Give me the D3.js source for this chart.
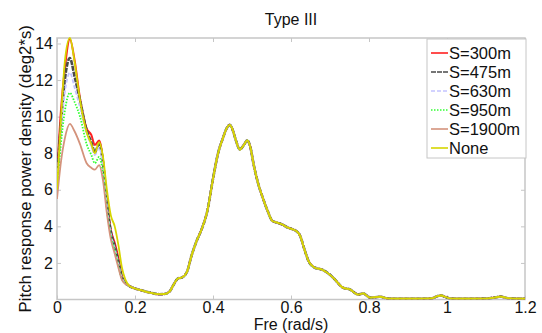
<!DOCTYPE html>
<html>
<head>
<meta charset="utf-8">
<script src="https://cdn.jsdelivr.net/npm/d3@7/dist/d3.min.js"></script>
<style>
  html, body { margin: 0; padding: 0; background: #fff; }
  svg { display: block; font-family: "Liberation Sans", Arial, sans-serif; }
</style>
</head>
<body>
<svg id="chart" width="542" height="333"></svg>
<script>
// Low-frequency band, where the spacing cases differ
const freqLow = [0, 0.01, 0.02, 0.033, 0.045, 0.059, 0.076, 0.088, 0.097, 0.108, 0.118, 0.128, 0.138, 0.148, 0.158, 0.166, 0.175];
const s300  = [6.7, 10.3, 12.6, 14.25, 13.1, 11.0, 9.35, 9.0, 8.45, 8.7, 7.6, 5.4, 3.8, 3.1, 2.2, 1.3, 0.95];
const s475  = [6.5, 9.6, 12.0, 13.2, 12.2, 10.9, 9.25, 8.6, 8.05, 8.5, 7.5, 5.3, 3.7, 2.9, 2.0, 1.25, 0.92];
const s630  = [6.3, 9.2, 11.3, 12.4, 11.6, 10.5, 9.1, 8.4, 7.9, 8.3, 7.3, 5.1, 3.6, 2.8, 1.9, 1.2, 0.9];
const s950  = [6.0, 8.5, 10.3, 11.3, 10.8, 10.0, 8.5, 7.9, 7.45, 7.8, 6.9, 4.9, 3.5, 2.7, 1.8, 1.15, 0.88];
const s1900 = [5.5, 7.5, 8.8, 9.6, 9.2, 8.5, 7.45, 7.2, 7.1, 7.35, 6.5, 4.7, 3.3, 2.5, 1.7, 1.1, 0.85];
const sNone = [6.0, 9.8, 13.0, 14.3, 13.0, 10.9, 9.15, 8.5, 8.0, 8.6, 7.8, 6.0, 4.6, 4.0, 2.9, 1.8, 1.1];

// Wave band and high frequencies, common to every case
const freqTail = [0.187, 0.2, 0.213, 0.225, 0.238, 0.25, 0.262, 0.275, 0.288, 0.3, 0.31, 0.32, 0.333, 0.345, 0.358, 0.372, 0.385, 0.4, 0.413, 0.425, 0.436, 0.443, 0.45, 0.458, 0.469, 0.479, 0.488, 0.495, 0.505, 0.515, 0.527, 0.54, 0.552, 0.565, 0.578, 0.59, 0.603, 0.613, 0.623, 0.635, 0.645, 0.66, 0.68, 0.7, 0.71, 0.733, 0.751, 0.772, 0.785, 0.803, 0.828, 0.85, 0.88, 0.92, 0.96, 0.975, 0.985, 0.995, 1.01, 1.05, 1.1, 1.125, 1.138, 1.15, 1.17, 1.2];
const valTail  = [0.72, 0.6, 0.52, 0.45, 0.38, 0.32, 0.29, 0.3, 0.42, 0.85, 1.15, 1.2, 1.5, 2.4, 3.2, 3.9, 4.8, 6.6, 8.0, 8.8, 9.4, 9.55, 9.3, 8.75, 8.2, 8.45, 8.7, 8.4, 7.3, 6.4, 5.6, 4.85, 4.3, 4.2, 4.1, 3.95, 3.85, 3.75, 3.5, 2.7, 2.1, 1.75, 1.63, 1.35, 1.15, 0.65, 0.55, 0.27, 0.33, 0.1, 0.15, 0.05, 0.04, 0.04, 0.06, 0.18, 0.22, 0.15, 0.05, 0.04, 0.05, 0.12, 0.16, 0.1, 0.05, 0.04];

const seriesNames = ["S=300m", "S=475m", "S=630m", "S=950m", "S=1900m", "None"];
const seriesLow = [s300, s475, s630, s950, s1900, sNone];
const seriesColors = ["#ff2020", "#4a4a4a", "#c4c4ff", "#30ff30", "#d4937c", "#d6d600"];
const seriesDash = [null, "5,1", "4,2", "1.5,1.5", null, null];
const seriesWidth = [2, 2.6, 1.8, 1.8, 1.8, 1.8];

const xTicks = [0, 0.2, 0.4, 0.6, 0.8, 1, 1.2];
const yTicks = [2, 4, 6, 8, 10, 12, 14];

const svg = d3.select("#chart");
const m = { left: 57, right: 525, top: 38, bottom: 299.5 };

const x = d3.scaleLinear().domain([0, 1.2]).range([m.left, m.right]);
const y = d3.scaleLinear().domain([0, 14.3]).range([m.bottom, m.top]);

svg.append("defs").append("clipPath").attr("id", "plotClip")
  .append("rect")
  .attr("x", m.left).attr("y", m.top - 2)
  .attr("width", m.right - m.left).attr("height", m.bottom - m.top + 2);

// Frame and inward ticks
const frameColor = "#c6c6c6";
svg.append("rect")
  .attr("x", m.left).attr("y", m.top)
  .attr("width", m.right - m.left).attr("height", m.bottom - m.top)
  .attr("fill", "none").attr("stroke", frameColor).attr("stroke-width", 1.5);

const axisStyle = g => {
  g.select(".domain").remove();
  g.selectAll(".tick line").attr("stroke", frameColor).attr("stroke-width", 1);
  g.selectAll(".tick text").attr("fill", "#111").style("font-size", "16px")
    .style("font-family", "'Liberation Sans', Arial, sans-serif");
};

svg.append("g").attr("transform", `translate(0,${m.bottom})`)
  .call(d3.axisBottom(x).tickValues(xTicks).tickFormat(d3.format("~g")).tickSizeInner(-4).tickPadding(2.5))
  .call(axisStyle);
svg.append("g").attr("transform", `translate(0,${m.top})`)
  .call(d3.axisTop(x).tickValues(xTicks).tickSizeInner(-4).tickFormat(""))
  .call(axisStyle);
svg.append("g").attr("transform", `translate(${m.left},0)`)
  .call(d3.axisLeft(y).tickValues(yTicks).tickFormat(d3.format("~g")).tickSizeInner(-4).tickPadding(4))
  .call(axisStyle);
svg.append("g").attr("transform", `translate(${m.right},0)`)
  .call(d3.axisRight(y).tickValues(yTicks).tickSizeInner(-4).tickFormat(""))
  .call(axisStyle);

// Spectra
const line = d3.line()
  .x(d => x(d[0]))
  .y(d => y(d[1]))
  .curve(d3.curveMonotoneX);

const plot = svg.append("g").attr("clip-path", "url(#plotClip)");
seriesLow.forEach((vals, i) => {
  const pts = freqLow.map((f, k) => [f, vals[k]])
    .concat(freqTail.map((f, k) => [f, valTail[k]]));
  plot.append("path")
    .datum(pts)
    .attr("d", line)
    .attr("fill", "none")
    .attr("stroke", seriesColors[i])
    .attr("stroke-width", seriesWidth[i])
    .attr("stroke-linejoin", "round")
    .attr("stroke-dasharray", seriesDash[i]);
});

// Title and axis labels
svg.append("text")
  .attr("x", (m.left + m.right) / 2).attr("y", 25)
  .attr("text-anchor", "middle").attr("fill", "#111")
  .style("font-size", "16px")
  .text("Type III");

svg.append("text")
  .attr("x", (m.left + m.right) / 2).attr("y", 329.5)
  .attr("text-anchor", "middle").attr("fill", "#111")
  .style("font-size", "16px")
  .text("Fre (rad/s)");

svg.append("text")
  .attr("transform", `translate(31,${(m.top + m.bottom) / 2}) rotate(-90)`)
  .attr("text-anchor", "middle").attr("fill", "#111")
  .style("font-size", "16.8px")
  .text("Pitch response power density (deg2*s)");

// Legend
const lg = svg.append("g").attr("transform", "translate(427,39)");
lg.append("rect")
  .attr("width", 99).attr("height", 119)
  .attr("fill", "#fff").attr("stroke", frameColor).attr("stroke-width", 1);
seriesNames.forEach((name, i) => {
  const cy = 14 + i * 19;
  lg.append("line")
    .attr("x1", 4).attr("x2", 21).attr("y1", cy).attr("y2", cy)
    .attr("stroke", seriesColors[i]).attr("stroke-width", 1.6)
    .attr("stroke-dasharray", seriesDash[i]);
  lg.append("text")
    .attr("x", 22).attr("y", cy + 6)
    .attr("fill", "#111").style("font-size", "16.5px")
    .text(name);
});
</script>
</body>
</html>
